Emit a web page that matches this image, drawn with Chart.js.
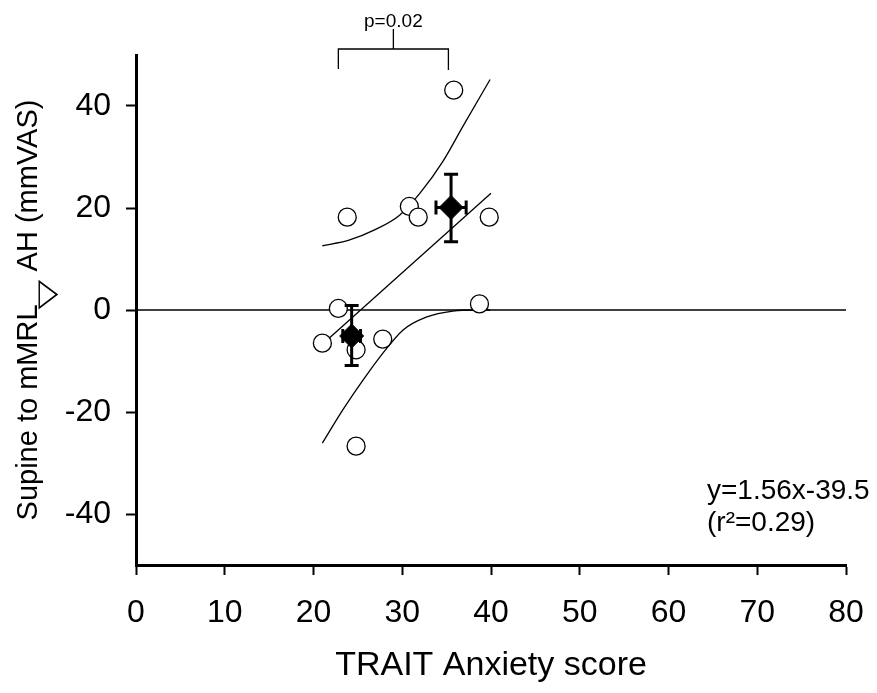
<!DOCTYPE html>
<html>
<head>
<meta charset="utf-8">
<script src="https://cdn.jsdelivr.net/npm/chart.js@4.4.0/dist/chart.umd.min.js"></script>
<style>
  html, body { margin: 0; padding: 0; background: #fff; }
  canvas { display: block; }
</style>
</head>
<body>
<canvas id="grafico" width="877" height="693"></canvas>
<script>
// pontos individuais (círculos abertos)
const pontosX = [35.8, 23.8, 30.8, 31.8, 39.8, 22.8, 38.7, 21.0, 24.8, 27.8, 24.8];
const pontosY = [43.1, 18.2, 20.3, 18.2, 18.2, 0.3, 1.2, -6.5, -7.8, -5.7, -26.7];

// médias dos grupos (losangos) com barras de erro
const mediaX = [24.3, 35.5];
const mediaY = [-5.1, 20.1];
const erroX = [1.0, 1.7];
const erroYInf = [-10.9, 13.4];
const erroYSup = [0.9, 26.6];

// reta de regressão
const retaX = [21, 40];
const retaY = [-6.7, 22.9];

// curvas de confiança
const supX = [21.0, 24.0, 27.0, 29.7, 32.0, 34.6, 36.8, 39.9];
const supY = [12.6, 13.7, 15.8, 18.6, 22.9, 29.2, 35.9, 45.2];
const infX = [21.0, 23.3, 25.6, 27.8, 30.1, 32.7, 35.7, 38.4, 39.9];
const infY = [-26.1, -19.6, -13.7, -8.5, -3.9, -1.4, -0.2, 0, 0];

// linha do zero
const zeroX = [0, 80];
const zeroY = [0, 0];

// eixos
const yTicks = [-40, -20, 0, 20, 40];
const tituloX = 'TRAIT Anxiety score';
const tituloY1 = 'Supine to mMRL';
const simbolo = '\u25BD';
const tituloY2 = ' AH (mmVAS)';
const equacao = 'y=1.56x-39.5';
const rQuadrado = '(r\u00B2=0.29)';
const colchete = [22.8, 35.2]; // extremos do colchete (eixo x)
const textoP = 'p=0.02';

const fonte = '"Liberation Sans", Arial, sans-serif';

const junta = (xs, ys) => xs.map((v, i) => ({ x: v, y: ys[i] }));

// titulo do eixo y, desenhado em partes por causa do triângulo
const tituloYPlugin = {
  id: 'tituloY',
  afterDraw(chart) {
    const ctx = chart.ctx;
    const area = chart.chartArea;
    ctx.save();
    ctx.font = '29px ' + fonte;
    const w1 = ctx.measureText(tituloY1).width;
    const w2 = ctx.measureText(tituloY2).width;
    const wt = 30, sobrepoe = 5;
    const total = w1 - sobrepoe + wt + w2;
    const meio = (area.top + area.bottom) / 2;
    ctx.translate(37, meio + total / 2);
    ctx.rotate(-Math.PI / 2);
    ctx.fillStyle = '#000';
    ctx.textBaseline = 'alphabetic';
    ctx.fillText(tituloY1, 0, 0);
    // triângulo abaixo da linha de base
    ctx.save();
    ctx.font = '40px "DejaVu Sans", sans-serif';
    const m = ctx.measureText(simbolo);
    const gw = m.actualBoundingBoxLeft + m.actualBoundingBoxRight;
    const gh = m.actualBoundingBoxAscent + m.actualBoundingBoxDescent;
    ctx.translate(w1 - sobrepoe, 1);
    ctx.scale(wt / gw, 20 / gh);
    ctx.fillText(simbolo, m.actualBoundingBoxLeft, m.actualBoundingBoxAscent);
    ctx.restore();
    ctx.fillText(tituloY2, w1 - sobrepoe + wt, 0);
    ctx.restore();
  }
};

// barras de erro das médias
const barrasErro = {
  id: 'barrasErro',
  afterDatasetsDraw(chart) {
    const { ctx, scales: { x, y } } = chart;
    ctx.save();
    ctx.strokeStyle = '#000';
    ctx.lineWidth = 3;
    mediaX.forEach((mx, i) => {
      const px = x.getPixelForValue(mx);
      const py = y.getPixelForValue(mediaY[i]);
      const yt = y.getPixelForValue(erroYSup[i]);
      const yb = y.getPixelForValue(erroYInf[i]);
      const xl = x.getPixelForValue(mx - erroX[i]);
      const xr = x.getPixelForValue(mx + erroX[i]);
      ctx.beginPath();
      ctx.moveTo(px, yt); ctx.lineTo(px, yb);
      ctx.moveTo(px - 7, yt); ctx.lineTo(px + 7, yt);
      ctx.moveTo(px - 7, yb); ctx.lineTo(px + 7, yb);
      ctx.moveTo(xl, py); ctx.lineTo(xr, py);
      ctx.moveTo(xl, py - 7); ctx.lineTo(xl, py + 7);
      ctx.moveTo(xr, py - 7); ctx.lineTo(xr, py + 7);
      ctx.stroke();
    });
    ctx.restore();
  }
};

// colchete com valor de p e texto da equação
const anotacoes = {
  id: 'anotacoes',
  afterDraw(chart) {
    const { ctx, scales: { x }, chartArea } = chart;
    const xa = x.getPixelForValue(colchete[0]);
    const xb = x.getPixelForValue(colchete[1]);
    const topo = chartArea.top;
    ctx.save();
    ctx.strokeStyle = '#000';
    ctx.lineWidth = 1.3;
    ctx.beginPath();
    ctx.moveTo(xa, topo + 14); ctx.lineTo(xa, topo - 6);
    ctx.lineTo(xb, topo - 6); ctx.lineTo(xb, topo + 15);
    const xm = (xa + xb) / 2;
    ctx.moveTo(xm, topo - 6); ctx.lineTo(xm, topo - 26);
    ctx.stroke();
    ctx.fillStyle = '#000';
    ctx.font = '19px ' + fonte;
    ctx.textAlign = 'center';
    ctx.textBaseline = 'alphabetic';
    ctx.fillText(textoP, xm, topo - 28);

    ctx.font = '28px ' + fonte;
    ctx.textAlign = 'left';
    ctx.fillText(equacao, 707, 499);
    ctx.fillText(rQuadrado, 707, 531);
    ctx.restore();
  }
};

const ctx = document.getElementById('grafico').getContext('2d');
const grafico = new Chart(ctx, {
  type: 'scatter',
  data: {
    datasets: [
      {
        label: 'Médias',
        data: junta(mediaX, mediaY),
        pointStyle: 'rectRot',
        pointRadius: 12,
        backgroundColor: '#000',
        borderColor: '#000',
        borderWidth: 1,
        order: 0
      },
      {
        label: 'Individuais',
        data: junta(pontosX, pontosY),
        pointStyle: 'circle',
        pointRadius: 9,
        backgroundColor: '#fff',
        borderColor: '#000',
        borderWidth: 1.3,
        order: 1
      },
      {
        label: 'Regressão',
        data: junta(retaX, retaY),
        showLine: true,
        pointRadius: 0,
        borderColor: '#000',
        borderWidth: 1.3,
        order: 2
      },
      {
        label: 'Superior',
        data: junta(supX, supY),
        showLine: true,
        pointRadius: 0,
        cubicInterpolationMode: 'monotone',
        borderColor: '#000',
        borderWidth: 1.3,
        order: 2
      },
      {
        label: 'Inferior',
        data: junta(infX, infY),
        showLine: true,
        pointRadius: 0,
        cubicInterpolationMode: 'monotone',
        borderColor: '#000',
        borderWidth: 1.3,
        order: 2
      },
      {
        label: 'Zero',
        data: junta(zeroX, zeroY),
        showLine: true,
        pointRadius: 0,
        borderColor: '#000',
        borderWidth: 1.5,
        order: 3
      }
    ]
  },
  options: {
    responsive: false,
    animation: false,
    layout: { autoPadding: false, padding: { left: 0, top: 55, right: 31, bottom: 0 } },
    plugins: {
      legend: { display: false },
      tooltip: { enabled: false }
    },
    scales: {
      x: {
        type: 'linear',
        min: 0,
        max: 80,
        ticks: {
          stepSize: 10,
          color: '#000',
          padding: 19,
          font: { family: fonte, size: 32 }
        },
        grid: { drawOnChartArea: false, tickLength: 10, tickWidth: 2, tickColor: '#000' },
        border: { display: true, color: '#000', width: 3 },
        title: {
          display: true,
          text: tituloX,
          color: '#000',
          font: { family: fonte, size: 34 },
          padding: { top: 0, bottom: 7 }
        },
        afterFit(scale) {
          scale.height = 128;
          scale.paddingLeft = 0;
          scale.paddingRight = 0;
        }
      },
      y: {
        type: 'linear',
        min: -50,
        max: 50,
        afterBuildTicks(scale) { scale.ticks = yTicks.map(v => ({ value: v })); },
        ticks: {
          color: '#000',
          padding: 15,
          font: { family: fonte, size: 32 }
        },
        grid: { drawOnChartArea: false, tickLength: 10, tickWidth: 2, tickColor: '#000' },
        border: { display: true, color: '#000', width: 3 },
        afterFit(scale) {
          scale.width = 136;
          scale.paddingTop = 0;
          scale.paddingBottom = 0;
        }
      }
    }
  },
  plugins: [barrasErro, anotacoes, tituloYPlugin]
});
</script>
</body>
</html>
